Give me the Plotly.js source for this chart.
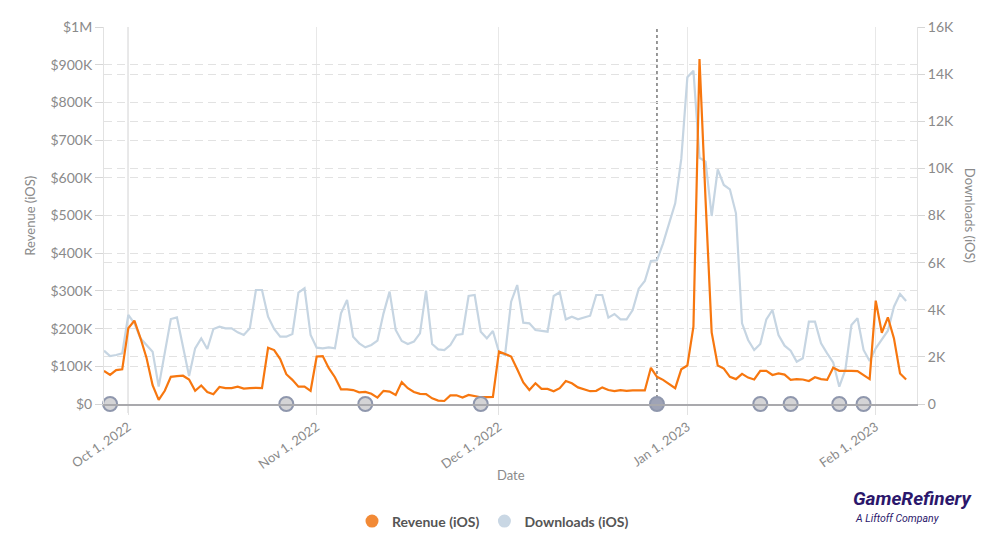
<!DOCTYPE html>
<html>
<head>
<meta charset="utf-8">
<script src="https://cdn.plot.ly/plotly-3.0.1.min.js"></script>
<style>
  html, body { margin: 0; padding: 0; background: #ffffff; }
  #chart { width: 1000px; height: 541px; }
</style>
</head>
<body>
<div id="chart"></div>
<script>
// ---- Data (daily, starting 2022-09-27) ----
var startDate = '2022-09-27';
var dayMs = 86400000;

// Revenue (iOS), thousands of USD
var revenueK = [
  88, 77, 90, 92, 201, 221, 175, 122, 50, 11,
  35, 72, 74, 75, 65, 35, 49, 32, 26, 45,
  42, 42, 46, 41, 42, 43, 42, 149, 143, 119,
  79, 64, 46, 46, 35, 126, 127, 95, 71, 39,
  39, 37, 31, 32, 27, 17, 35, 33, 24, 58,
  42, 32, 27, 26, 15, 9, 8, 23, 23, 17,
  24, 22, 18, 18, 19, 139, 133, 126, 92, 57,
  37, 55, 40, 40, 34, 42, 61, 55, 44, 40,
  34, 35, 44, 37, 34, 37, 35, 36, 36, 36,
  96, 72, 64, 53, 42, 92, 102, 205, 915, 540,
  190, 102, 94, 72, 66, 80, 70, 65, 88, 88,
  77, 81, 78, 64, 66, 65, 61, 71, 66, 64,
  96, 88, 89, 88, 87, 76, 66, 274, 189, 230,
  174, 81, 65
];

// Downloads (iOS)
var downloads = [
  2263, 2037, 2080, 2150, 3777, 3423, 2787, 2504, 2221, 735,
  2200, 3607, 3678, 2433, 1188, 2362, 2787, 2334, 3183, 3282,
  3211, 3211, 3042, 2928, 3211, 4838, 4838, 3706, 3183, 2858,
  2858, 2971, 4725, 4909, 2928, 2391, 2362, 2405, 2362, 3848,
  4414, 2858, 2575, 2405, 2504, 2688, 3848, 4768, 3141, 2674,
  2546, 2646, 3000, 4810, 2546, 2320, 2292, 2504, 2928, 2971,
  4584, 4626, 3070, 2787, 3098, 2200, 2080, 4343, 5050, 3451,
  3423, 3141, 3098, 3070, 4584, 4739, 3593, 3706, 3593, 3678,
  3748, 4626, 4626, 3664, 3820, 3593, 3593, 3989, 4895, 5220,
  6069, 6098, 6819, 7668, 8517, 10400, 13865, 14146, 10450, 10285,
  7979, 9960, 9294, 9111, 8092, 3423, 2716, 2292, 2546, 3593,
  3989, 2928, 2476, 2263, 1797, 1938, 3494, 3494, 2575, 2150,
  1768, 735, 1443, 3353, 3636, 2292, 1825, 2362, 2716, 3112,
  4131, 4669, 4371
];

// Event markers on the date axis
var eventDates = ['2022-09-28', '2022-10-27', '2022-11-09', '2022-11-28', '2022-12-27',
                  '2023-01-13', '2023-01-18', '2023-01-26', '2023-01-30'];
var highlightDate = '2022-12-27';

// Axis ticks
var xTickVals = ['2022-10-01', '2022-11-01', '2022-12-01', '2023-01-01', '2023-02-01'];
var xTickText = ['Oct 1, 2022', 'Nov 1, 2022', 'Dec 1, 2022', 'Jan 1, 2023', 'Feb 1, 2023'];
var revTickVals = [0, 100, 200, 300, 400, 500, 600, 700, 800, 900, 1000];
var revTickText = ['$0', '$100K', '$200K', '$300K', '$400K', '$500K', '$600K', '$700K', '$800K', '$900K', '$1M'];
var dlTickVals = [0, 2000, 4000, 6000, 8000, 10000, 12000, 14000, 16000];
var dlTickText = ['0', '2K', '4K', '6K', '8K', '10K', '12K', '14K', '16K'];

var seriesNames = ['Revenue (iOS)', 'Downloads (iOS)'];

// ---- Styles ----
var ORANGE = '#f7770f';
var BLUE = '#c6d5e2';
var FONT = 'Lato, "Open Sans", sans-serif';
var GREY = '#8a8a8a';

var traces = [
  { // downloads line (right axis)
    type: 'scatter', mode: 'lines', x0: startDate, dx: dayMs, y: downloads,
    xaxis: 'x', yaxis: 'y', line: { color: BLUE, width: 2.2 },
    showlegend: false, hoverinfo: 'skip'
  },
  { // revenue line (left axis, drawn on top)
    type: 'scatter', mode: 'lines', x0: startDate, dx: dayMs, y: revenueK,
    xaxis: 'x', yaxis: 'y2', line: { color: ORANGE, width: 2.2 },
    showlegend: false, hoverinfo: 'skip'
  },
  { // event markers
    type: 'scatter', mode: 'markers', x: eventDates,
    y: eventDates.map(function () { return 0; }),
    xaxis: 'x', yaxis: 'y2', cliponaxis: false,
    marker: {
      size: 14,
      color: eventDates.map(function (d) { return d === highlightDate ? '#9ea3b6' : '#d4d4d6'; }),
      line: { color: '#8f97ad', width: 2 }
    },
    showlegend: false, hoverinfo: 'skip'
  },
  { // legend entries
    type: 'scatter', mode: 'markers', x: [null], y: [null], xaxis: 'x', yaxis: 'y2',
    name: seriesNames[0], marker: { size: 13, color: '#f28a36' }, showlegend: true
  },
  {
    type: 'scatter', mode: 'markers', x: [null], y: [null], xaxis: 'x', yaxis: 'y',
    name: seriesNames[1], marker: { size: 13, color: '#c9d7e4' }, showlegend: true
  }
];

var gridDash = '8px,5px';

var layout = {
  width: 1000, height: 541,
  paper_bgcolor: '#ffffff', plot_bgcolor: '#ffffff',
  margin: { l: 104, r: 83, t: 27, b: 137, pad: 0 },
  font: { family: FONT, size: 14, color: GREY },
  hovermode: false,
  xaxis: {
    type: 'date',
    range: ['2022-09-27', '2023-02-07 19:00'],
    tickmode: 'array', tickvals: xTickVals, ticktext: xTickText,
    tickangle: -35,
    tickfont: { family: FONT, size: 13, color: GREY },
    showgrid: true, gridcolor: '#e8e8e8', gridwidth: 1,
    ticks: 'outside', ticklen: 9, tickcolor: '#e2e2e2',
    showline: true, linecolor: '#a9a9ad', linewidth: 1.5,
    zeroline: false, anchor: 'y', fixedrange: true
  },
  yaxis: {
    range: [0, 16000], side: 'right',
    tickmode: 'array', tickvals: dlTickVals, ticktext: dlTickText,
    tickfont: { family: FONT, size: 14, color: GREY },
    showgrid: true, gridcolor: '#e2e2e2', griddash: gridDash, gridwidth: 1,
    ticks: 'outside', ticklen: 7, tickcolor: '#d6d6d6',
    showline: true, linecolor: '#e2e2e2', linewidth: 1,
    zeroline: false, fixedrange: true
  },
  yaxis2: {
    range: [0, 1000], side: 'left', overlaying: 'y',
    tickmode: 'array', tickvals: revTickVals, ticktext: revTickText,
    tickfont: { family: FONT, size: 14, color: GREY },
    showgrid: true, gridcolor: '#e2e2e2', griddash: gridDash, gridwidth: 1,
    ticks: 'outside', ticklen: 8, tickcolor: '#d6d6d6',
    showline: true, linecolor: '#e2e2e2', linewidth: 1,
    zeroline: false, fixedrange: true
  },
  shapes: [
    { type: 'line', xref: 'x', yref: 'paper', x0: xTickVals[0], x1: xTickVals[0], y0: -0.024, y1: 1,
      line: { color: '#b4b4b8', width: 1.2 }, layer: 'below' },
    { type: 'line', xref: 'x', yref: 'paper', x0: highlightDate, x1: highlightDate, y0: 0, y1: 1,
      line: { color: '#555555', width: 1.2, dash: '3px,3px' }, layer: 'below' }
  ],
  legend: {
    orientation: 'h', xref: 'container', yref: 'container',
    x: 0.493, xanchor: 'center', y: 0.036, yanchor: 'middle',
    font: { family: FONT, size: 14, color: '#555555', weight: 'bold' },
    itemclick: false, itemdoubleclick: false
  },
  annotations: [
    { text: 'Revenue (iOS)', xref: 'paper', yref: 'paper', x: -0.092, y: 0.5,
      xanchor: 'center', yanchor: 'middle', textangle: -90, showarrow: false,
      font: { family: FONT, size: 13, color: GREY } },
    { text: 'Downloads (iOS)', xref: 'paper', yref: 'paper', x: 1.066, y: 0.5,
      xanchor: 'center', yanchor: 'middle', textangle: 90, showarrow: false,
      font: { family: FONT, size: 13, color: GREY } },
    { text: 'Date', xref: 'paper', yref: 'paper', x: 0.5, y: -0.188,
      xanchor: 'center', yanchor: 'middle', showarrow: false,
      font: { family: FONT, size: 13, color: GREY } },
    { text: '<b><i>GameRefinery</i></b>', xref: 'paper', yref: 'paper', x: 0.919, y: -0.251,
      xanchor: 'left', yanchor: 'middle', showarrow: false,
      font: { family: 'Roboto, sans-serif', size: 19, color: '#2b176b' } },
    { text: '<i>A Liftoff Company</i>', xref: 'paper', yref: 'paper', x: 0.921, y: -0.304,
      xanchor: 'left', yanchor: 'middle', showarrow: false,
      font: { family: 'Roboto, sans-serif', size: 10.5, color: '#2b176b' } }
  ]
};

Plotly.newPlot('chart', traces, layout, { displayModeBar: false, staticPlot: true });
</script>
</body>
</html>
